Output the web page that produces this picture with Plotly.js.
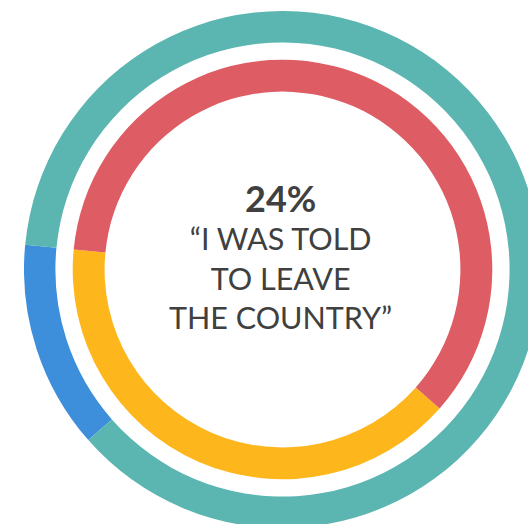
<!DOCTYPE html>
<html>
<head>
<meta charset="utf-8">
<script src="https://cdn.plot.ly/plotly-3.0.1.min.js"></script>
<style>
  html, body { margin: 0; padding: 0; width: 528px; height: 524px; overflow: hidden; background: #ffffff; }
  #chart { position: absolute; left: 24px; top: 11px; width: 517px; height: 517px; }
</style>
</head>
<body>
<div id="chart"></div>
<script>
// Outer ring
const outerLabels = ["Blue group", "Others"];
const outerValues = [13, 87];
const outerColors = ["#3D8FDC", "#5BB5B1"];

// Inner ring
const innerLabels = ["Yellow group", "Red group"];
const innerValues = [40, 60];
const innerColors = ["#FDB71D", "#DE5C64"];

// Centre text
const headline = "24%";
const quoteLines = ["“I WAS TOLD", "TO LEAVE", "THE COUNTRY”"];

const data = [
  {
    type: "pie",
    labels: outerLabels,
    values: outerValues,
    marker: { colors: outerColors, line: { width: 0 } },
    hole: 0.8785,
    sort: false,
    direction: "clockwise",
    rotation: 228.7,
    textinfo: "none",
    hoverinfo: "none",
    showlegend: false,
    domain: { x: [0, 1], y: [0, 1] }
  },
  {
    type: "pie",
    labels: innerLabels,
    values: innerValues,
    marker: { colors: innerColors, line: { width: 0 } },
    hole: 0.848,
    sort: false,
    direction: "clockwise",
    rotation: 131.5,
    textinfo: "none",
    hoverinfo: "none",
    showlegend: false,
    domain: { x: [0.0942, 0.9058], y: [0.0942, 0.9058] }
  }
];

const layout = {
  width: 517,
  height: 517,
  margin: { l: 0, r: 0, t: 0, b: 0, pad: 0 },
  paper_bgcolor: "#ffffff",
  plot_bgcolor: "#ffffff",
  showlegend: false,
  annotations: [
    {
      text: "<b>" + headline + "</b>",
      xref: "paper", yref: "paper",
      x: 0.497, y: 0.638,
      xanchor: "center", yanchor: "middle",
      showarrow: false,
      font: { family: "Lato, 'Open Sans', sans-serif", size: 36, color: "#404040" }
    },
    {
      text: quoteLines.join("<br>"),
      xref: "paper", yref: "paper",
      x: 0.497, y: 0.485,
      xanchor: "center", yanchor: "middle",
      align: "center",
      showarrow: false,
      font: { family: "Lato, 'Open Sans', sans-serif", size: 30.5, color: "#404040" }
    }
  ]
};

Plotly.newPlot("chart", data, layout, { staticPlot: true, displayModeBar: false });
</script>
</body>
</html>
